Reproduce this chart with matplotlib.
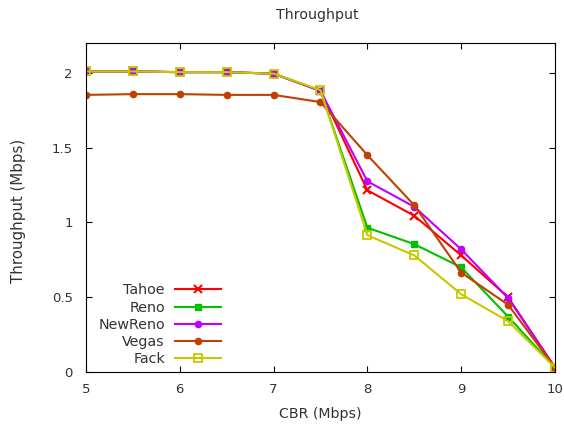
import matplotlib
matplotlib.use("Agg")
import matplotlib.pyplot as plt

# CBR rate (Mbps)
cbr = [5, 5.5, 6, 6.5, 7, 7.5, 8, 8.5, 9, 9.5, 10]

# throughput per TCP variant (Mbps)
tahoe   = [2.01, 2.01, 2.005, 2.005, 1.995, 1.88, 1.215, 1.045, 0.78, 0.50, 0.03]
reno    = [2.01, 2.01, 2.005, 2.005, 1.995, 1.88, 0.965, 0.855, 0.70, 0.37, 0.03]
newreno = [2.01, 2.01, 2.005, 2.005, 1.995, 1.88, 1.275, 1.105, 0.82, 0.495, 0.03]
vegas   = [1.853, 1.858, 1.858, 1.853, 1.853, 1.805, 1.45, 1.115, 0.665, 0.45, 0.03]
fack    = [2.01, 2.01, 2.005, 2.005, 1.995, 1.885, 0.915, 0.78, 0.52, 0.34, 0.03]

plt.rcParams["font.family"] = "DejaVu Sans"
plt.rcParams["font.size"] = 9.5
plt.rcParams["text.color"] = "#333333"
plt.rcParams["axes.labelcolor"] = "#333333"

fig = plt.figure(figsize=(5.64, 4.24), dpi=100)
ax = fig.add_axes([0.1525, 0.1226, 0.8315, 0.776])

ax.plot(cbr, tahoe, color="#ff0000", marker="x", ms=6, mew=1.5, lw=1.5, label="Tahoe")
ax.plot(cbr, reno, color="#00c000", marker="s", ms=5, lw=1.5, label="Reno")
ax.plot(cbr, newreno, color="#c000ff", marker="o", ms=4.5, lw=1.5, label="NewReno")
ax.plot(cbr, vegas, color="#c04000", marker="o", ms=4.5, lw=1.5, label="Vegas")
ax.plot(cbr, fack, color="#c8c800", marker="s", ms=6, mfc="none", mew=1.3, lw=1.5, label="Fack")

ax.set_xlim(5, 10)
ax.set_ylim(0, 2.2)
ax.set_xticks([5, 6, 7, 8, 9, 10])
ax.set_yticks([0, 0.5, 1, 1.5, 2])
ax.set_yticklabels(["0", "0.5", "1", "1.5", "2"])
ax.tick_params(direction="in", top=True, right=True, length=4, colors="black",
               labelcolor="#333333")
ax.tick_params(axis="x", pad=8)
ax.tick_params(axis="y", pad=9.5)

ax.set_title("Throughput", fontsize=10.2, pad=17, x=0.493)
ax.set_xlabel("CBR (Mbps)", fontsize=10.2, labelpad=8)
ax.set_ylabel("Throughput (Mbps)", fontsize=10.8)
ax.yaxis.set_label_coords(-0.128, 0.49)

# gnuplot-style key: text right-aligned, sample line after it
leg = ax.legend(loc="lower left", bbox_to_anchor=(0.005, -0.012), frameon=False,
                markerfirst=False, handlelength=3.2, handletextpad=0.7,
                labelspacing=0.22, borderaxespad=0.3, fontsize=10.3)

fig.savefig("out.png", dpi=100)
